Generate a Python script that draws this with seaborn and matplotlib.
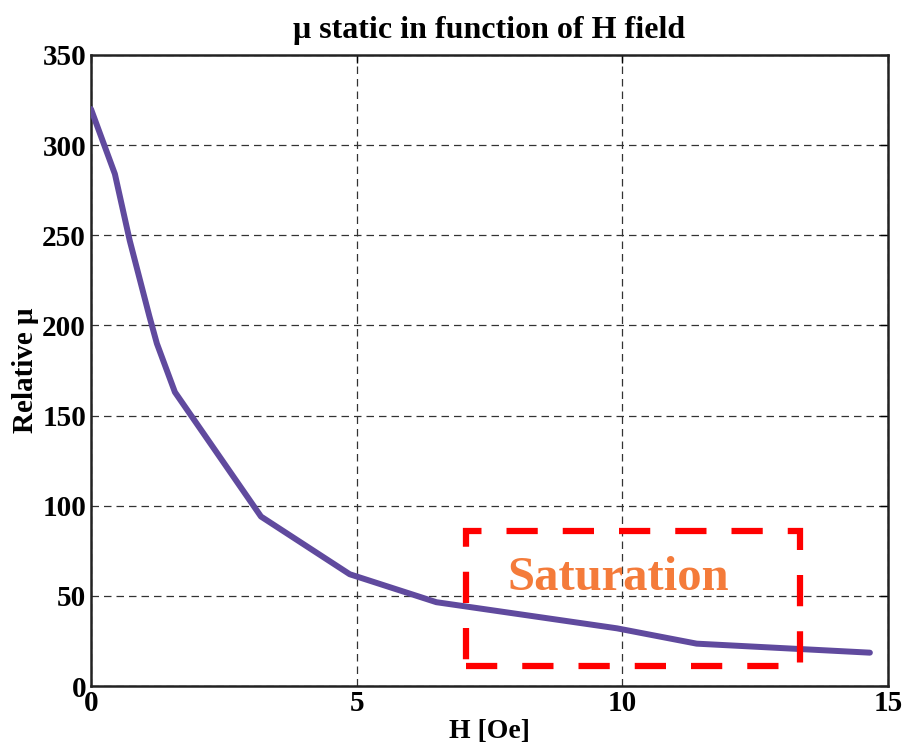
import matplotlib
matplotlib.use("Agg")
import matplotlib.pyplot as plt
import seaborn as sns
import pandas as pd
from matplotlib.patches import Rectangle

H_field = [0.0, 0.45, 0.73, 1.1, 1.24, 1.58, 3.2, 4.87, 6.5, 9.9, 11.4, 14.66]
mu_rel = [320, 284, 247, 205, 190, 163, 94, 62, 46.5, 32, 23.5, 18.5]

x_ticks = [0, 5, 10, 15]
y_ticks = [0, 50, 100, 150, 200, 250, 300, 350]

sat_box = dict(x0=7.05, y0=11, x1=13.35, y1=86)
sat_label = "Saturation"

sns.set_style("white")
plt.rcParams['font.family'] = ['Liberation Serif', 'DejaVu Serif']
plt.rcParams['font.weight'] = 'bold'
plt.rcParams['text.color'] = 'black'
plt.rcParams['axes.labelcolor'] = 'black'

fig = plt.figure(figsize=(9.07, 7.5), dpi=100)
ax = fig.add_axes([0.1003, 0.0853, 0.8787, 0.8414])

df = pd.DataFrame({"H": H_field, "mu": mu_rel})
sns.lineplot(data=df, x="H", y="mu", ax=ax, color="#604a9e", linewidth=4.3, zorder=3)

ax.set_xlim(0, 15)
ax.set_ylim(0, 350)
ax.set_xticks(x_ticks)
ax.set_yticks(y_ticks)
ax.set_xticklabels([str(t) for t in x_ticks], fontsize=21, fontweight='bold')
ax.set_yticklabels([str(t) for t in y_ticks], fontsize=21, fontweight='bold')
ax.tick_params(axis='x', pad=3)
ax.tick_params(direction='in', length=6, width=1, top=True, right=True,
               colors='black', labelcolor='black')
ax.grid(True, color='#333333', linestyle=(0, (6, 4)), linewidth=0.9)
for s in ax.spines.values():
    s.set_visible(True)
    s.set_color('#222222')
    s.set_linewidth(1.8)

ax.set_title("μ static in function of H field", fontsize=23, fontweight='bold', pad=12,
             color='black')
ax.set_xlabel("H [Oe]", fontsize=20, fontweight='bold', labelpad=1, color='black')
ax.set_ylabel("Relative μ", fontsize=21, fontweight='bold', labelpad=2, color='black')

rect = Rectangle((sat_box['x0'], sat_box['y0']), sat_box['x1'] - sat_box['x0'],
                 sat_box['y1'] - sat_box['y0'], fill=False, edgecolor='#ff0000',
                 linewidth=4.5, linestyle=(0, (5, 4)), zorder=4)
ax.add_patch(rect)
ax.text(9.92, 60, sat_label, color='#f47b3a', fontsize=35, fontweight='bold',
        ha='center', va='center', zorder=5)

fig.savefig("out.png", dpi=100)
